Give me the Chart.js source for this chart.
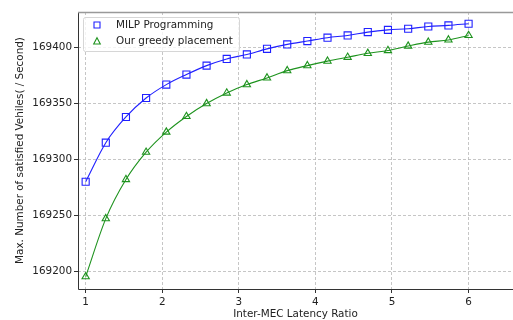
<!DOCTYPE html>
<html>
<head>
<meta charset="utf-8">
<script src="https://cdn.jsdelivr.net/npm/chart.js@4/dist/chart.umd.min.js"></script>
<style>
    html, body { margin: 0; padding: 0; background: #fff; }
    #wrap { width: 513px; height: 320px; }
</style>
</head>
<body>
<div id="wrap"><canvas id="chart" width="513" height="320"></canvas></div>
<script>
"use strict";

const latencyRatio = [
    1.000, 1.263, 1.526, 1.789, 2.053, 2.316, 2.579, 2.842, 3.105, 3.368,
    3.632, 3.895, 4.158, 4.421, 4.684, 4.947, 5.211, 5.474, 5.737, 6.000
];
const milpVehicles = [
    169280, 169315, 169338, 169355, 169367, 169376, 169384, 169390, 169394, 169399,
    169403, 169406, 169409, 169411, 169414, 169416, 169417, 169419, 169420, 169421.5
];
const greedyVehicles = [
    169195, 169247, 169282, 169306.5, 169324.5, 169338.5, 169350, 169359.5, 169367, 169373,
    169379.5, 169384, 169388, 169391.5, 169395, 169397.5, 169401.5, 169405, 169407, 169411
];
const xTicks = [1, 2, 3, 4, 5, 6];
const yTicks = [169200, 169250, 169300, 169350, 169400];

const BLUE = "#2020ff";
const GREEN = "#1e931e";
const FONT = "'DejaVu Sans', sans-serif";
const TEXT = "#222222";

// legend box sitting inside the plot, upper left
const insideLegend = {
    id: "insideLegend",
    afterDraw (chart) {
        const {ctx, chartArea} = chart;
        const x = chartArea.left + 5, y = chartArea.top + 5, w = 156, h = 34;

        ctx.save();
        ctx.beginPath();
        ctx.roundRect(x + 0.5, y + 0.5, w, h, 2);
        ctx.fillStyle = "rgba(255,255,255,0.8)";
        ctx.fill();
        ctx.strokeStyle = "#d6d6d6";
        ctx.lineWidth = 1;
        ctx.stroke();

        ctx.font = `10.4px ${FONT}`;
        ctx.textBaseline = "middle";
        ctx.fillStyle = TEXT;

        chart.data.datasets.forEach((ds, i) => {
            const my = y + 8 + i * 16, mx = x + 14;
            ctx.strokeStyle = ds.borderColor;
            ctx.lineWidth = 1.1;
            ctx.beginPath();
            if (ds.pointStyle === "rect") {
                ctx.rect(mx - 3, my - 3, 6, 6);
            } else {
                ctx.moveTo(mx, my - 3.3);
                ctx.lineTo(mx + 3.3, my + 3);
                ctx.lineTo(mx - 3.3, my + 3);
                ctx.closePath();
            }
            ctx.stroke();
            ctx.fillText(ds.label, x + 33, my + 0.5);
        });
        ctx.restore();
    }
};

// axis spines: dark left/bottom, lighter top
const spines = {
    id: "spines",
    afterDatasetsDraw (chart) {
        const {ctx, chartArea: a} = chart;
        ctx.save();
        ctx.lineWidth = 1;
        ctx.strokeStyle = "#333333";
        ctx.beginPath();
        ctx.moveTo(a.left + 0.5, a.top);
        ctx.lineTo(a.left + 0.5, a.bottom + 0.5);
        ctx.lineTo(a.right, a.bottom + 0.5);
        ctx.stroke();
        ctx.strokeStyle = "#999999";
        ctx.lineWidth = 1.5;
        ctx.beginPath();
        ctx.moveTo(a.left, a.top + 0.5);
        ctx.lineTo(a.right, a.top + 0.5);
        ctx.stroke();
        ctx.restore();
    }
};

const points = (xs, ys) => xs.map((x, i) => ({x, y: ys[i]}));

new Chart(document.getElementById("chart"), {
    type: "line",
    data: {
        datasets: [{
            label: "MILP Programming",
            data: points(latencyRatio, milpVehicles),
            borderColor: BLUE,
            borderWidth: 1.1,
            pointStyle: "rect",
            pointRadius: 5,
            pointBorderWidth: 1.1,
            pointBorderColor: BLUE,
            pointBackgroundColor: "rgba(0,0,0,0)",
            cubicInterpolationMode: "monotone"
        }, {
            label: "Our greedy placement",
            data: points(latencyRatio, greedyVehicles),
            borderColor: GREEN,
            borderWidth: 1.1,
            pointStyle: "triangle",
            pointRadius: 4.2,
            pointBorderWidth: 1.1,
            pointBorderColor: GREEN,
            pointBackgroundColor: "rgba(0,0,0,0)",
            cubicInterpolationMode: "monotone"
        }]
    },
    options: {
        responsive: false,
        animation: false,
        layout: {autoPadding: false, padding: {top: 12, left: 0, right: 0, bottom: 0}},
        plugins: {
            legend: {display: false},
            tooltip: {enabled: false}
        },
        scales: {
            x: {
                type: "linear",
                min: 0.9,
                max: 6.58,
                afterBuildTicks: scale => { scale.ticks = xTicks.map(value => ({value})); },
                afterFit: scale => {
                    scale.height = 31;
                    scale.paddingLeft = 0;
                    scale.paddingRight = 0;
                },
                ticks: {
                    color: TEXT,
                    padding: 3,
                    font: {family: FONT, size: 10.4},
                    callback: v => String(v)
                },
                grid: {
                    color: "#b8b8b8",
                    lineWidth: 0.8,
                    tickLength: 4,
                    tickColor: "#333333",
                    tickWidth: 1
                },
                border: {display: false, dash: [3, 2]},
                title: {
                    display: true,
                    text: "Inter-MEC Latency Ratio",
                    color: TEXT,
                    font: {family: FONT, size: 10.4},
                    padding: {top: 0, bottom: -1}
                }
            },
            y: {
                type: "linear",
                min: 169184,
                max: 169432,
                afterBuildTicks: scale => { scale.ticks = yTicks.map(value => ({value})); },
                afterFit: scale => {
                    scale.width = 78;
                    scale.paddingTop = 0;
                    scale.paddingBottom = 0;
                },
                ticks: {
                    color: TEXT,
                    padding: 2,
                    font: {family: FONT, size: 10.4},
                    callback: v => String(v)
                },
                grid: {
                    color: "#b8b8b8",
                    lineWidth: 0.8,
                    tickLength: 4,
                    tickColor: "#333333",
                    tickWidth: 1
                },
                border: {display: false, dash: [3, 2]},
                title: {
                    display: true,
                    text: "Max. Number of satisfied Vehiles( / Second)",
                    color: TEXT,
                    font: {family: FONT, size: 10.4},
                    padding: {top: 13.8, bottom: 0}
                }
            }
        }
    },
    plugins: [spines, insideLegend]
});
</script>
</body>
</html>
